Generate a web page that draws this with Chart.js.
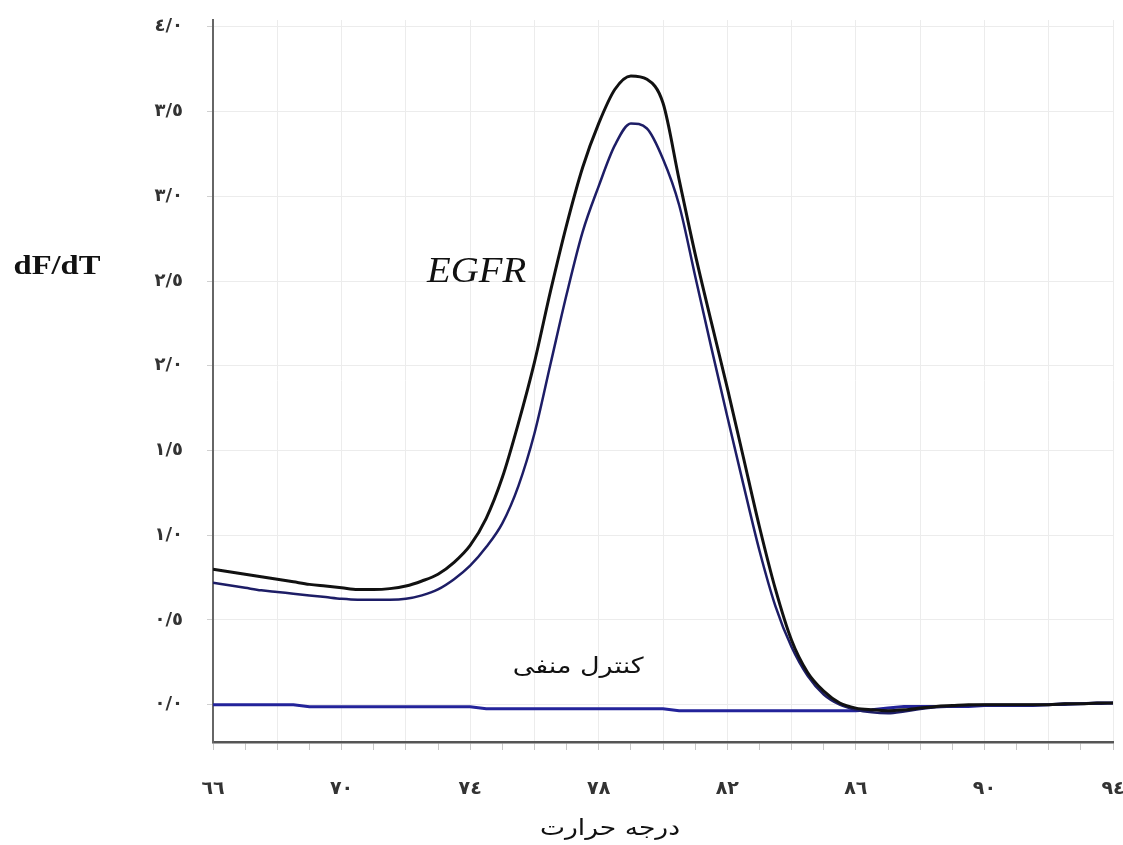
<!DOCTYPE html>
<html>
<head>
<meta charset="utf-8">
<script src="https://cdn.jsdelivr.net/npm/chart.js@4.4.0/dist/chart.umd.min.js"></script>
<style>
  html, body { margin: 0; background: #fff; }
  #wrap { width: 1123px; height: 845px; }
</style>
</head>
<body>
<div id="wrap"><canvas id="meltChart"></canvas></div>
<script>
// --- Data ---
const temps = [66, 66.5, 67, 67.5, 68, 68.5, 69, 69.5, 70, 70.5, 71, 71.5, 72, 72.5, 73, 73.5,
               74, 74.5, 75, 75.5, 76, 76.5, 77, 77.5, 78, 78.5, 79, 79.5, 80, 80.5, 81, 81.5,
               82, 82.5, 83, 83.5, 84, 84.5, 85, 85.5, 86, 86.5, 87, 87.5, 88, 88.5, 89, 89.5,
               90, 90.5, 91, 91.5, 92, 92.5, 93, 93.5, 94];

// EGFR sample 1 (black, upper curve)
const egfrBlack = [0.80, 0.785, 0.77, 0.755, 0.74, 0.725, 0.71, 0.70, 0.69, 0.68, 0.68, 0.685, 0.70, 0.73, 0.77, 0.84,
                   0.94, 1.10, 1.34, 1.66, 2.02, 2.44, 2.83, 3.17, 3.43, 3.63, 3.71, 3.69, 3.55, 3.10, 2.66, 2.26,
                   1.87, 1.46, 1.05, 0.68, 0.38, 0.19, 0.08, 0.01, -0.02, -0.03, -0.035, -0.03, -0.02, -0.01, -0.005, 0,
                   0, 0, 0, 0, 0, 0.005, 0.005, 0.01, 0.01];

// EGFR sample 2 (navy, lower curve)
const egfrNavy = [0.72, 0.705, 0.69, 0.675, 0.665, 0.655, 0.645, 0.635, 0.625, 0.62, 0.62, 0.62, 0.625, 0.645, 0.68, 0.74,
                  0.82, 0.93, 1.07, 1.29, 1.60, 2.01, 2.42, 2.79, 3.06, 3.30, 3.43, 3.40, 3.22, 2.95, 2.53, 2.11,
                  1.70, 1.30, 0.91, 0.58, 0.34, 0.17, 0.06, 0.0, -0.03, -0.045, -0.05, -0.04, -0.025, -0.015, -0.01, -0.005,
                  0, 0, 0, 0, 0, 0, 0.005, 0.005, 0.01];

// negative control (flat blue line)
const negControl = [0, 0, 0, 0, 0, 0, -0.012, -0.012, -0.012, -0.012, -0.012, -0.012, -0.012, -0.012, -0.012, -0.012,
                    -0.012, -0.024, -0.024, -0.024, -0.024, -0.024, -0.024, -0.024, -0.024, -0.024, -0.024, -0.024, -0.024, -0.035, -0.035, -0.035,
                    -0.035, -0.035, -0.035, -0.035, -0.035, -0.035, -0.035, -0.035, -0.035, -0.03, -0.02, -0.01, -0.01, -0.01, -0.01, -0.01,
                    -0.005, -0.005, -0.005, -0.005, 0, 0.005, 0.005, 0.01, 0.01];

const yTicks = [0, 0.5, 1, 1.5, 2, 2.5, 3, 3.5, 4];
const xTicks = [66, 67, 68, 69, 70, 71, 72, 73, 74, 75, 76, 77, 78, 79, 80,
                81, 82, 83, 84, 85, 86, 87, 88, 89, 90, 91, 92, 93, 94];
const xLabelled = [66, 70, 74, 78, 82, 86, 90, 94];

// --- helpers ---
const faDigits = '٠١٢٣٤٥٦٧٨٩';
const toFa = s => String(s).replace(/[0-9]/g, d => faDigits[d]);

const pts = arr => temps.map((t, i) => ({ x: t, y: arr[i] }));

// draw a text centred on (cx, cy), squeezed/stretched to a given width
function drawFit(ctx, text, cx, cy, font, width, rtl) {
    ctx.save();
    ctx.font = font;
    ctx.direction = rtl ? 'rtl' : 'ltr';
    ctx.textAlign = 'center';
    ctx.textBaseline = 'middle';
    const w = ctx.measureText(text).width;
    ctx.translate(cx, cy);
    ctx.scale(width / w, 1);
    ctx.fillText(text, 0, 0);
    ctx.restore();
}

// no extra room for the end tick labels, the plot area is fixed by hand
const noEdgePadding = axis => {
    axis.paddingLeft = 0;
    axis.paddingRight = 0;
    axis.paddingTop = 0;
    axis.paddingBottom = 0;
};

const textLabels = {
    id: 'textLabels',
    afterDraw(chart) {
        const { ctx, scales: { x, y } } = chart;
        ctx.save();
        ctx.fillStyle = '#111';
        drawFit(ctx, 'dF/dT', 57, 267, 'bold 27px "Liberation Serif"', 87);
        drawFit(ctx, 'EGFR', x.getPixelForValue(74.2), y.getPixelForValue(2.55),
                'italic 35px "Liberation Serif"', 99);
        drawFit(ctx, 'کنترل منفی', x.getPixelForValue(77.36), y.getPixelForValue(0.22),
                '22px "DejaVu Sans"', 131, true);
        drawFit(ctx, 'درجه حرارت', 610, 829, '22px "DejaVu Sans"', 140, true);
        ctx.restore();
    }
};

const ctx = document.getElementById('meltChart').getContext('2d');
new Chart(ctx, {
    type: 'line',
    data: {
        datasets: [
            {
                label: 'EGFR 1',
                data: pts(egfrBlack),
                borderColor: '#111111',
                borderWidth: 3,
                pointRadius: 0,
                cubicInterpolationMode: 'monotone'
            },
            {
                label: 'EGFR 2',
                data: pts(egfrNavy),
                borderColor: '#1d1d66',
                borderWidth: 2.5,
                pointRadius: 0,
                cubicInterpolationMode: 'monotone'
            },
            {
                label: 'کنترل منفی',
                data: pts(negControl),
                borderColor: '#23239a',
                borderWidth: 3,
                pointRadius: 0,
                tension: 0
            }
        ]
    },
    options: {
        responsive: true,
        maintainAspectRatio: false,
        animation: false,
        layout: { padding: { top: 20, right: 10, left: 0, bottom: 0 } },
        plugins: {
            legend: { display: false },
            tooltip: { enabled: false }
        },
        scales: {
            x: {
                type: 'linear',
                min: 66,
                max: 94,
                afterBuildTicks: axis => { axis.ticks = xTicks.map(v => ({ value: v })); },
                afterFit: axis => { axis.height = 103; noEdgePadding(axis); },
                border: { color: '#555', width: 2.5 },
                grid: {
                    color: c => (c.tick && c.tick.value % 2 === 0) ? '#ececec' : 'rgba(0,0,0,0)',
                    tickColor: '#c8c8c8',
                    tickLength: 8,
                    lineWidth: 1
                },
                ticks: {
                    autoSkip: false,
                    maxRotation: 0,
                    padding: 28,
                    color: '#333',
                    font: { family: 'DejaVu Sans', size: 19, weight: 'bold' },
                    callback: v => xLabelled.includes(v) ? toFa(v) : ''
                }
            },
            y: {
                min: -0.22,
                max: 4.04,
                afterBuildTicks: axis => { axis.ticks = yTicks.map(v => ({ value: v })); },
                afterFit: axis => { axis.width = 213; noEdgePadding(axis); },
                border: { color: '#666', width: 2 },
                grid: {
                    color: '#ececec',
                    tickColor: '#d0d0d0',
                    tickLength: 6,
                    lineWidth: 1
                },
                ticks: {
                    padding: 24,
                    color: '#333',
                    font: { family: 'DejaVu Sans', size: 18, weight: 'bold' },
                    callback: v => toFa(v.toFixed(1)).replace('.', '/')
                }
            }
        }
    },
    plugins: [textLabels]
});
</script>
</body>
</html>
